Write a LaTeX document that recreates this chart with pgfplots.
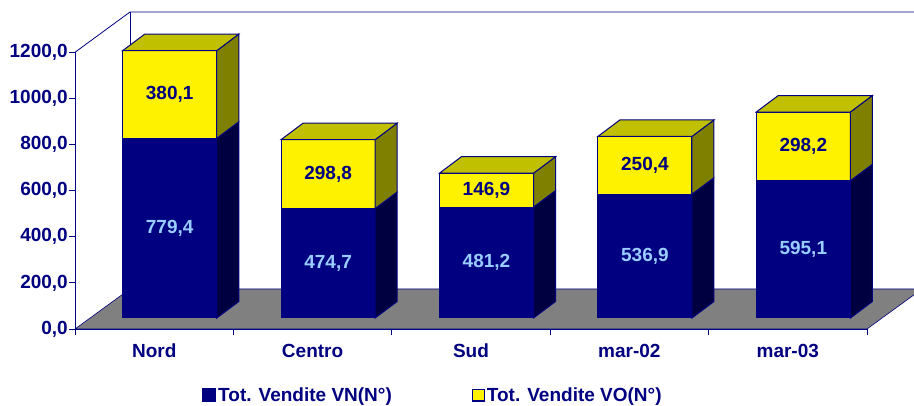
\documentclass[border=0pt]{standalone}
\usepackage{fontspec}
\setmainfont{Liberation Sans}
\usepackage{pgfplots}
\pgfplotsset{compat=1.18}
\definecolor{navy}{HTML}{000080}
\definecolor{navyside}{HTML}{000040}
\definecolor{yside}{HTML}{808000}
\definecolor{ytop}{HTML}{C0C000}
\definecolor{lblue}{HTML}{99CCFF}
\definecolor{floorgray}{HTML}{808080}
\newcommand\chartfont{\fontsize{19}{23}\selectfont\bfseries}
\pgfplotsset{
  chartgeom/.style={scale only axis, width=792pt, height=276.7pt,
    xmin=-0.5, xmax=4.5, ymin=0, ymax=1200, clip=false},
}
\begin{document}
\begin{tikzpicture}
\useasboundingbox (0,0) rectangle (914pt,406pt);
\clip (0,0) rectangle (914pt,406pt);
% ---------- frame: floor, walls, axes ----------
\begin{axis}[
  chartgeom,
  at={(75pt,77pt)}, anchor=south west,
  axis x line*=bottom, axis y line*=left,
  axis line style={navy, line width=0.8pt},
  xtick={-0.5,0.5,...,4.5}, x tick label as interval,
  xticklabels={Nord,Centro,Sud,mar-02,mar-03},
  ytick={0,200,...,1200},
  tick align=outside, major tick length=6pt,
  tick style={navy, line width=0.8pt},
  ticklabel style={font=\chartfont, text=navy},
  /pgf/number format/assume math mode=true,
  yticklabel style={inner sep=1pt, /pgf/number format/.cd, fixed, fixed zerofill, precision=1, use comma, 1000 sep={}},
  xticklabel style={yshift=-5.5pt},
]
\addplot[fill=floorgray, draw=navy, line width=0.6pt] coordinates {(-0.5,0) (4.5,0) (4.847,173.5) (-0.153,173.5)} -- cycle;
\addplot[navy, line width=0.8pt] coordinates {(-0.5,1200) (-0.153,1374.7) (4.95,1374.7)};
\addplot[navy, line width=0.8pt] coordinates {(-0.153,173.5) (-0.153,1374.7)};
\end{axis}
% ---------- bar fronts ----------
\begin{axis}[
  chartgeom, hide axis,
  at={(90.5pt,88pt)}, anchor=south west,
  ybar stacked, bar width=0.594,
  legend columns=2,
  legend style={at={(0.1408,-0.2783)}, anchor=west, draw=none, fill=none,
    font=\chartfont, text=navy, inner sep=0pt,
    /tikz/every even column/.append style={column sep=78pt}},
]
\addplot[fill=navy, draw=navy, line width=1pt,
  legend image code/.code={\fill[navy] (0pt,-6.5pt) rectangle (13pt,6.5pt);}]
  coordinates {(0,779.4) (1,474.7) (2,481.2) (3,536.9) (4,595.1)};
\addplot[fill=yellow, draw=navy, line width=1pt,
  legend image code/.code={\draw[fill=yellow, draw=navy, line width=1.2pt] (0.6pt,-5.9pt) rectangle (12.4pt,5.9pt);}]
  coordinates {(0,380.1) (1,298.8) (2,146.9) (3,250.4) (4,298.2)};
\legend{Tot. Vendite VN(N°), Tot. Vendite VO(N°)}
\end{axis}
% ---------- 3D side / top faces and value labels ----------
\begin{axis}[
  chartgeom, hide axis,
  at={(90.5pt,88pt)}, anchor=south west,
]
% Nord
\addplot[fill=navyside, draw=navy, line width=1pt] coordinates {(0.297,0) (0.436,71.5) (0.436,850.9) (0.297,779.4)} -- cycle;
\addplot[fill=yside, draw=navy, line width=1pt] coordinates {(0.297,779.4) (0.436,850.9) (0.436,1231) (0.297,1159.5)} -- cycle;
\addplot[fill=ytop, draw=navy, line width=1pt] coordinates {(-0.297,1159.5) (-0.158,1231) (0.436,1231) (0.297,1159.5)} -- cycle;
% Centro
\addplot[fill=navyside, draw=navy, line width=1pt] coordinates {(1.297,0) (1.436,71.5) (1.436,546.2) (1.297,474.7)} -- cycle;
\addplot[fill=yside, draw=navy, line width=1pt] coordinates {(1.297,474.7) (1.436,546.2) (1.436,845) (1.297,773.5)} -- cycle;
\addplot[fill=ytop, draw=navy, line width=1pt] coordinates {(0.703,773.5) (0.842,845) (1.436,845) (1.297,773.5)} -- cycle;
% Sud
\addplot[fill=navyside, draw=navy, line width=1pt] coordinates {(2.297,0) (2.436,71.5) (2.436,552.7) (2.297,481.2)} -- cycle;
\addplot[fill=yside, draw=navy, line width=1pt] coordinates {(2.297,481.2) (2.436,552.7) (2.436,699.6) (2.297,628.1)} -- cycle;
\addplot[fill=ytop, draw=navy, line width=1pt] coordinates {(1.703,628.1) (1.842,699.6) (2.436,699.6) (2.297,628.1)} -- cycle;
% mar-02
\addplot[fill=navyside, draw=navy, line width=1pt] coordinates {(3.297,0) (3.436,71.5) (3.436,608.4) (3.297,536.9)} -- cycle;
\addplot[fill=yside, draw=navy, line width=1pt] coordinates {(3.297,536.9) (3.436,608.4) (3.436,858.8) (3.297,787.3)} -- cycle;
\addplot[fill=ytop, draw=navy, line width=1pt] coordinates {(2.703,787.3) (2.842,858.8) (3.436,858.8) (3.297,787.3)} -- cycle;
% mar-03
\addplot[fill=navyside, draw=navy, line width=1pt] coordinates {(4.297,0) (4.436,71.5) (4.436,666.6) (4.297,595.1)} -- cycle;
\addplot[fill=yside, draw=navy, line width=1pt] coordinates {(4.297,595.1) (4.436,666.6) (4.436,964.8) (4.297,893.3)} -- cycle;
\addplot[fill=ytop, draw=navy, line width=1pt] coordinates {(3.703,893.3) (3.842,964.8) (4.436,964.8) (4.297,893.3)} -- cycle;
% value labels
\addplot[draw=none, mark=none, nodes near coords, point meta=explicit symbolic,
  nodes near coords align={center},
  every node near coord/.append style={font=\chartfont, text=lblue}]
  coordinates {(0,389.7) [779,4] (1,237.4) [474,7] (2,240.6) [481,2] (3,268.5) [536,9] (4,297.6) [595,1]};
\addplot[draw=none, mark=none, nodes near coords, point meta=explicit symbolic,
  nodes near coords align={center},
  every node near coord/.append style={font=\chartfont, text=navy}]
  coordinates {(0,969.5) [380,1] (1,624.1) [298,8] (2,554.7) [146,9] (3,662.1) [250,4] (4,744.2) [298,2]};
\end{axis}
\end{tikzpicture}
\end{document}
